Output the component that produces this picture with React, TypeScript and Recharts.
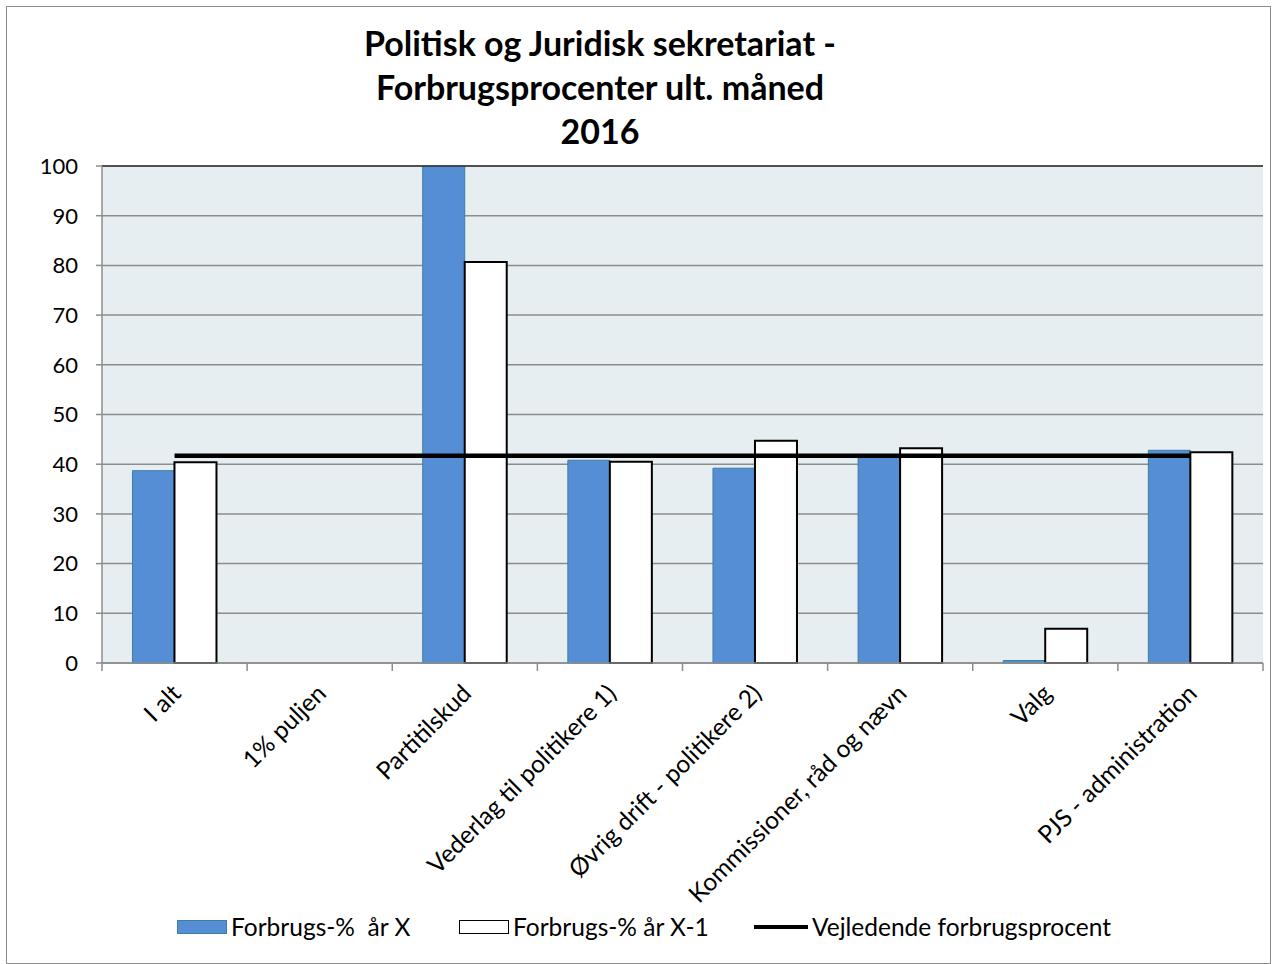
import {
  ComposedChart,
  Bar,
  Line,
  XAxis,
  YAxis,
  CartesianGrid,
  ReferenceLine,
} from 'recharts';

const categories = [
  'I alt',
  '1% puljen',
  'Partitilskud',
  'Vederlag til politikere 1)',
  'Øvrig drift - politikere 2)',
  'Kommissioner, råd og nævn',
  'Valg',
  'PJS - administration',
];
const currentYear = [38.7, 0, 100, 40.8, 39.2, 41.6, 0.5, 42.8];
const previousYear = [40.4, 0, 80.7, 40.5, 44.7, 43.2, 6.9, 42.4];
const guideline = [41.7, 41.7, 41.7, 41.7, 41.7, 41.7, 41.7, 41.7];
const yTicks = [0, 10, 20, 30, 40, 50, 60, 70, 80, 90, 100];

const data = categories.map((name, i) => ({
  name,
  current: currentYear[i],
  previous: previousYear[i],
  guide: guideline[i],
}));

const FONT = 'Lato, "Open Sans", sans-serif';
const W = 1273;
const H = 964;
const PLOT_LEFT = 102;
const PLOT_RIGHT = 1263;
const BAND = (PLOT_RIGHT - PLOT_LEFT) / categories.length;

function CategoryTick(props: any) {
  const { x, y, payload, index } = props;
  const left = x - BAND / 2;
  return (
    <g>
      <line x1={left} y1={y - 8} x2={left} y2={y} stroke="#8c8c8c" strokeWidth={1.5} />
      {index === categories.length - 1 && (
        <line x1={x + BAND / 2} y1={y - 8} x2={x + BAND / 2} y2={y} stroke="#8c8c8c" strokeWidth={1.5} />
      )}
      <text
        x={x + 8}
        y={y + 24}
        textAnchor="end"
        transform={`rotate(-45 ${x + 8} ${y + 24})`}
        fontSize={24.5}
        fontFamily={FONT}
        fill="#000"
      >
        {payload.value}
      </text>
    </g>
  );
}

function LegendItem({ kind, label }: { kind: 'blue' | 'white' | 'line'; label: string }) {
  return (
    <div style={{ display: 'flex', alignItems: 'center', gap: 4 }}>
      {kind === 'line' ? (
        <div style={{ width: 54, height: 4, background: '#000' }} />
      ) : (
        <div
          style={{
            width: 50,
            height: 14,
            boxSizing: 'border-box',
            background: kind === 'blue' ? '#558ED5' : '#fff',
            border: kind === 'blue' ? '1px solid #3b7fa0' : '1.5px solid #000',
          }}
        />
      )}
      <span style={{ whiteSpace: 'pre' }}>{label}</span>
    </div>
  );
}

export default function App() {
  return (
    <div
      style={{
        position: 'absolute',
        left: 0,
        top: 0,
        width: W,
        height: H,
        background: '#fff',
        fontFamily: FONT,
      }}
    >
      <div
        style={{
          position: 'absolute',
          left: 6,
          top: 6,
          width: W - 8,
          height: H - 6,
          border: '1.5px solid #8c8c8c',
          boxSizing: 'border-box',
        }}
      />
      <div
        style={{
          position: 'absolute',
          left: 250,
          width: 700,
          top: 21,
          textAlign: 'center',
          fontWeight: 700,
          fontSize: 34,
          lineHeight: '44px',
          color: '#000',
        }}
      >
        Politisk og Juridisk sekretariat -<br />
        Forbrugsprocenter ult. måned
        <br />
        2016
      </div>
      <div style={{ position: 'absolute', left: 0, top: 0 }}>
        <ComposedChart
          width={W}
          height={H}
          data={data}
          margin={{ top: 166, right: W - PLOT_RIGHT, bottom: 60, left: 22 }}
          barCategoryGap="21%"
          barGap={0}
        >
          <CartesianGrid
            vertical={false}
            stroke="#8c8c8c"
            strokeWidth={1.5}
            fill="#E7EEF2"
            fillOpacity={1}
          />
          <XAxis
            dataKey="name"
            interval={0}
            height={241}
            tick={<CategoryTick />}
            tickLine={false}
            axisLine={{ stroke: '#8c8c8c', strokeWidth: 1.5 }}
          />
          <YAxis
            width={80}
            domain={[0, 100]}
            ticks={yTicks}
            interval={0}
            tick={{ fontSize: 22, fontFamily: FONT, fill: '#000' }}
            tickLine={{ stroke: '#8c8c8c', strokeWidth: 1.5 }}
            tickSize={6}
            tickMargin={18}
            axisLine={{ stroke: '#8c8c8c', strokeWidth: 1.5 }}
          />
          <YAxis
            yAxisId="right"
            orientation="right"
            width={0}
            domain={[0, 100]}
            tick={false}
            tickLine={false}
            axisLine={{ stroke: '#333', strokeWidth: 1.5 }}
          />
          <ReferenceLine y={100} stroke="#333" strokeWidth={1.5} />
          <Bar
            dataKey="current"
            fill="#558ED5"
            stroke="#3b7fa0"
            strokeWidth={1}
            isAnimationActive={false}
          />
          <Bar
            dataKey="previous"
            fill="#ffffff"
            stroke="#000"
            strokeWidth={2}
            isAnimationActive={false}
          />
          <Line
            dataKey="guide"
            stroke="#000"
            strokeWidth={4.5}
            dot={false}
            activeDot={false}
            isAnimationActive={false}
          />
        </ComposedChart>
      </div>
      <div
        style={{
          position: 'absolute',
          top: 912,
          left: 177,
          display: 'flex',
          fontSize: 24.5,
          color: '#000',
          lineHeight: '30px',
        }}
      >
        <div style={{ width: 282 }}>
          <LegendItem kind="blue" label="Forbrugs-%  år X" />
        </div>
        <div style={{ width: 295 }}>
          <LegendItem kind="white" label="Forbrugs-% år X-1" />
        </div>
        <LegendItem kind="line" label="Vejledende forbrugsprocent" />
      </div>
    </div>
  );
}
